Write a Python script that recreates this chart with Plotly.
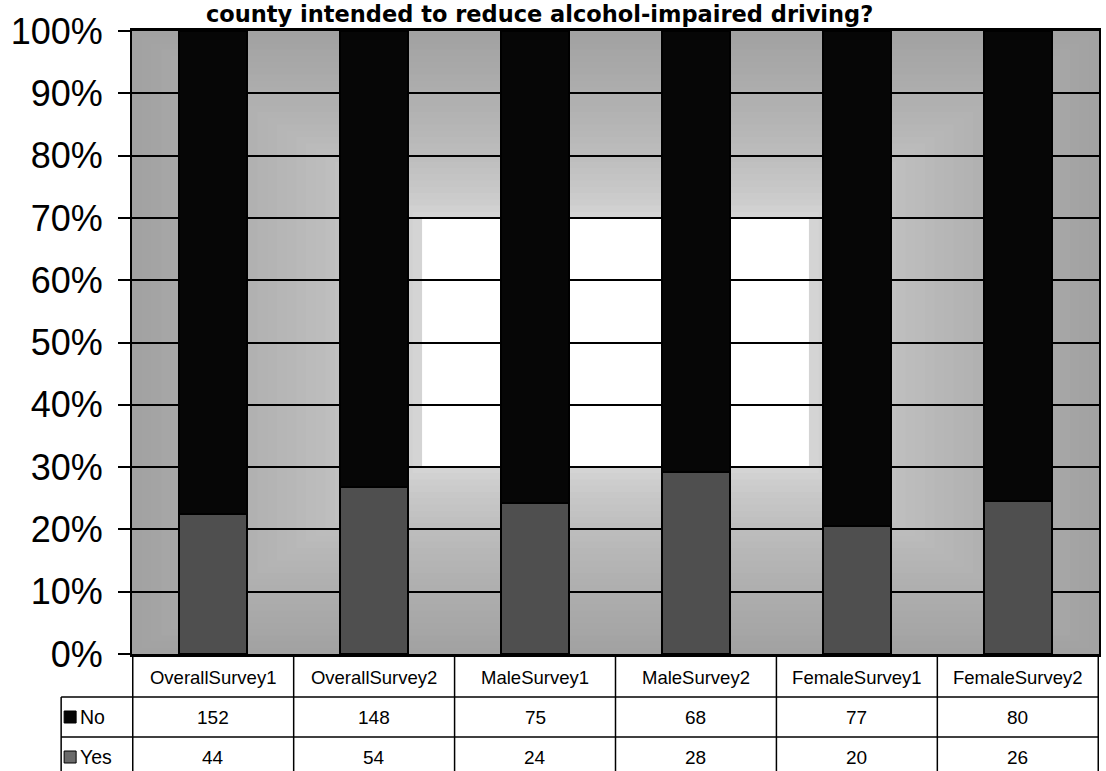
import plotly.graph_objects as go

# Survey responses by group
categories = ["OverallSurvey1", "OverallSurvey2", "MaleSurvey1",
              "MaleSurvey2", "FemaleSurvey1", "FemaleSurvey2"]
no_counts = [152, 148, 75, 68, 77, 80]
yes_counts = [44, 54, 24, 28, 20, 26]
series_names = ["No", "Yes"]
y_ticks = [0, 10, 20, 30, 40, 50, 60, 70, 80, 90, 100]
y_tick_labels = [f"{v}%" for v in y_ticks]

title_text = "county intended to reduce alcohol-impaired driving?"

W, H = 1106, 771
L, R, T, B = 132, 5, 31, 117
PW, PH = W - L - R, H - T - B

SANS = "Liberation Sans, Arial, sans-serif"


def py(px):
    """pixel row -> paper y"""
    return 1 - (px - T) / PH


def px_x(px):
    """pixel column -> paper x"""
    return (px - L) / PW


fig = go.Figure()

# stacked 100% bars: Yes at the bottom, No on top
fig.add_trace(go.Bar(
    x=categories, y=yes_counts, name="Yes",
    marker=dict(color="#4f4f4f", line=dict(color="#000000", width=2)),
))
fig.add_trace(go.Bar(
    x=categories, y=no_counts, name="No",
    marker=dict(color="#060606", line=dict(color="#000000", width=2)),
))

shapes = []

# rectangular "from centre" gradient behind the plot
steps = 30
inner = 0.30
for i in range(steps + 1):
    t = i / steps                     # 0 = outer edge, 1 = inner white box
    inset = inner * t
    g = 1 - t
    level = int(round(0xdc - (0xdc - 0xa2) * (g ** 0.6)))
    col = f"rgb({level},{level},{level})"
    shapes.append(dict(type="rect", xref="paper", yref="paper",
                       x0=inset, x1=1 - inset, y0=inset, y1=1 - inset,
                       fillcolor=col, line=dict(width=0), layer="below"))
shapes.append(dict(type="rect", xref="paper", yref="paper",
                   x0=inner, x1=1 - inner, y0=inner, y1=1 - inner,
                   fillcolor="white", line=dict(width=0), layer="below"))

# data table grid under the plot
row_top = 654
row_hdr = 697
row_mid = 737
row_bot = 790
tbl_left = 61
line = dict(color="black", width=1.5)
# vertical dividers between category columns
for k in range(len(categories) + 1):
    shapes.append(dict(type="line", xref="x", yref="paper",
                       x0=k - 0.5, x1=k - 0.5, y0=py(row_top), y1=py(row_bot),
                       line=line))
# horizontal rules
for yy in (row_hdr, row_mid):
    shapes.append(dict(type="line", xref="paper", yref="paper",
                       x0=px_x(tbl_left), x1=1, y0=py(yy), y1=py(yy), line=line))
# left border of the row-label column
shapes.append(dict(type="line", xref="paper", yref="paper",
                   x0=px_x(tbl_left), x1=px_x(tbl_left), y0=py(row_hdr), y1=py(row_bot),
                   line=line))

# legend keys in the row-label column
key_colors = {"No": "#060606", "Yes": "#6a6a6a"}
row_centers = {"No": (row_hdr + row_mid) / 2, "Yes": (row_mid + 777) / 2}
for name in series_names:
    cy = row_centers[name]
    shapes.append(dict(type="rect", xref="paper", yref="paper",
                       x0=px_x(64), x1=px_x(76), y0=py(cy - 6), y1=py(cy + 6),
                       fillcolor=key_colors[name], line=dict(color="black", width=1)))

annotations = []
for name in series_names:
    cy = row_centers[name]
    annotations.append(dict(text=name, xref="paper", yref="paper",
                            x=px_x(78), y=py(cy), xanchor="left", yanchor="middle",
                            showarrow=False, font=dict(family=SANS, size=19.5, color="black")))
row_values = {"No": no_counts, "Yes": yes_counts}
for name in series_names:
    cy = row_centers[name]
    for cat, v in zip(categories, row_values[name]):
        annotations.append(dict(text=str(v), xref="x", yref="paper",
                                x=cat, y=py(cy), xanchor="center", yanchor="middle",
                                showarrow=False,
                                font=dict(family=SANS, size=19, color="black")))

annotations.append(dict(text=f"<b>{title_text}</b>", xref="paper", yref="paper",
                        x=px_x(540), y=py(13.5), xanchor="center", yanchor="middle",
                        showarrow=False,
                        font=dict(family="DejaVu Sans, Verdana, sans-serif", size=22.5,
                                  color="black")))

fig.update_layout(
    width=W, height=H,
    margin=dict(l=L, r=R, t=T, b=B, pad=0),
    barmode="stack", barnorm="percent", bargap=0.58,
    paper_bgcolor="white", plot_bgcolor="white",
    showlegend=False,
    shapes=shapes, annotations=annotations,
)
fig.update_xaxes(
    showline=True, linecolor="black", linewidth=3, mirror=True,
    ticks="", showgrid=False,
    tickfont=dict(family=SANS, size=18.5, color="black"),
    ticklabelstandoff=5,
)
fig.update_yaxes(
    range=[0, 100], tickmode="array", tickvals=y_ticks, ticktext=y_tick_labels,
    showline=True, linecolor="black", linewidth=2, mirror=True,
    ticks="outside", ticklen=12, tickcolor="black", tickwidth=1.5,
    showgrid=True, gridcolor="black", gridwidth=1.5,
    tickfont=dict(family=SANS, size=36, color="black"),
    ticklabelstandoff=8, zeroline=False,
)

fig.write_html("out.html")
